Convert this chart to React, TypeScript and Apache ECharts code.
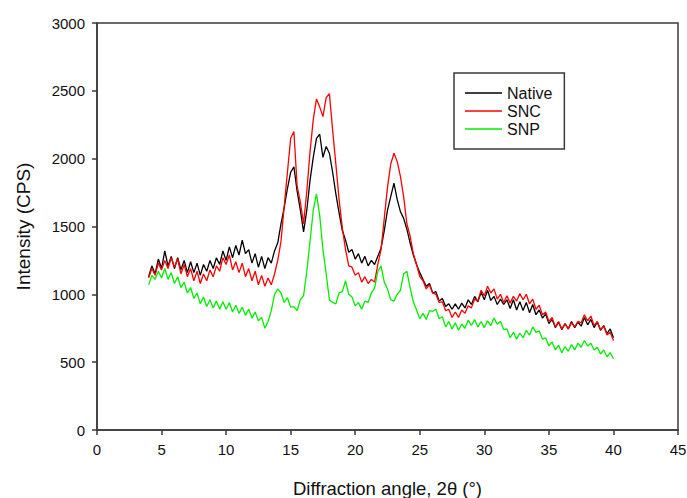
import React, { useEffect, useRef } from "react";
import * as echarts from "echarts";

const angles = [
  4, 4.25, 4.5, 4.75, 5, 5.25, 5.5, 5.75, 6, 6.25, 6.5, 6.75, 7, 7.25, 7.5, 7.75,
  8, 8.25, 8.5, 8.75, 9, 9.25, 9.5, 9.75, 10, 10.25, 10.5, 10.75, 11, 11.25, 11.5, 11.75,
  12, 12.25, 12.5, 12.75, 13, 13.25, 13.5, 13.75, 14, 14.25, 14.5, 14.75, 15, 15.25, 15.5, 15.75,
  16, 16.25, 16.5, 16.75, 17, 17.25, 17.5, 17.75, 18, 18.25, 18.5, 18.75, 19, 19.25, 19.5, 19.75,
  20, 20.25, 20.5, 20.75, 21, 21.25, 21.5, 21.75, 22, 22.25, 22.5, 22.75, 23, 23.25, 23.5, 23.75,
  24, 24.25, 24.5, 24.75, 25, 25.25, 25.5, 25.75, 26, 26.25, 26.5, 26.75, 27, 27.25, 27.5, 27.75,
  28, 28.25, 28.5, 28.75, 29, 29.25, 29.5, 29.75, 30, 30.25, 30.5, 30.75, 31, 31.25, 31.5, 31.75,
  32, 32.25, 32.5, 32.75, 33, 33.25, 33.5, 33.75, 34, 34.25, 34.5, 34.75, 35, 35.25, 35.5, 35.75,
  36, 36.25, 36.5, 36.75, 37, 37.25, 37.5, 37.75, 38, 38.25, 38.5, 38.75, 39, 39.25, 39.5, 39.75,
  40,
];

const nativeValues = [
  1130, 1210, 1150, 1260, 1190, 1320, 1210, 1280, 1190, 1270, 1180, 1250, 1160, 1240, 1160, 1230,
  1140, 1220, 1170, 1250, 1190, 1270, 1220, 1320, 1250, 1350, 1270, 1360, 1290, 1400, 1300, 1330,
  1230, 1300, 1200, 1280, 1190, 1270, 1230, 1320, 1380, 1520, 1640, 1780, 1900, 1940, 1760, 1620,
  1460, 1620, 1840, 2010, 2150, 2180, 2010, 2090, 2040, 1900, 1740, 1600, 1470, 1400, 1310, 1330,
  1260, 1300, 1230, 1280, 1210, 1250, 1220, 1280, 1340, 1470, 1620, 1720, 1820, 1700, 1610, 1560,
  1480, 1380, 1290, 1220, 1160, 1110, 1060, 1080, 1010, 1020, 950, 970, 910, 930, 890, 930,
  890, 935, 900, 960, 925, 985, 945, 1015, 960, 1030, 955, 985, 925, 965, 925, 960,
  895, 960, 885, 945, 880, 940, 865, 925, 850, 885, 825, 855, 785, 815, 755, 795,
  740, 785, 745, 800, 755, 795, 765, 830, 775, 815, 755, 795, 735, 770, 710, 745,
  680,
];

const sncValues = [
  1120, 1190, 1140, 1230, 1180, 1250, 1190, 1270, 1200, 1260, 1150, 1220, 1130, 1190, 1100, 1170,
  1080, 1150, 1100, 1180, 1130, 1210, 1170, 1270, 1220, 1290, 1180, 1240, 1160, 1230, 1130, 1190,
  1100, 1170, 1070, 1140, 1060, 1120, 1070, 1150, 1250, 1390, 1650, 1900, 2150, 2200, 1800, 1680,
  1520, 1760, 2050, 2290, 2440, 2380, 2310, 2450, 2480, 2210, 1960, 1700, 1490, 1330, 1210, 1200,
  1140, 1160, 1090, 1130, 1080, 1110, 1090, 1220, 1330, 1560, 1790, 1960, 2040, 1980, 1870, 1720,
  1520, 1430, 1300, 1220, 1130, 1100, 1040, 1070, 1010, 1000, 940, 945, 880, 890, 830, 870,
  830, 885, 860, 915, 900, 965, 950, 1030, 990, 1060, 1010, 1040, 965, 1000, 940, 990,
  935, 985, 950, 1005, 960, 1000, 930, 965, 890, 920, 850, 870, 800, 830, 760, 800,
  745, 780, 745, 790, 760, 800, 790, 850, 805, 840, 770, 800, 740, 765, 700, 720,
  660,
];

const snpValues = [
  1070, 1140, 1110, 1170, 1120, 1190, 1110, 1160, 1080, 1130, 1050, 1090, 1010, 1050, 970, 1010,
  930, 980, 910, 960, 900, 950, 890, 945, 890, 940, 870, 920, 860, 905, 845, 890,
  825, 870, 805, 830, 750, 800, 880, 1000, 1040, 1010, 940, 975, 905, 910, 880, 960,
  990, 1170, 1390, 1620, 1740, 1580, 1330, 1150, 960, 940, 930, 1010, 1020, 1100, 1000, 980,
  915, 940, 890, 950, 940, 1010, 1045, 1170, 1210, 1090, 1040, 960, 950, 1000, 1030, 1150,
  1170, 1050, 945, 885, 820, 860, 815, 880, 875, 890, 820, 835, 760, 800, 745, 790,
  735, 780, 750, 810, 770, 815, 760, 800, 755, 805, 770, 825, 780, 800, 740, 745,
  680, 720, 670, 715, 680, 735, 700, 760, 720, 730, 670, 680, 620, 650, 590, 625,
  570, 615, 580, 630, 590, 640, 610, 660, 620, 640, 590, 610, 560, 590, 540, 570,
  525,
];

const seriesNames = ["Native", "SNC", "SNP"];
const seriesColors = ["#000000", "#ff0000", "#00ee00"];

const FONT = "'Liberation Sans', Arial, sans-serif";

export default function App() {
  const ref = useRef<HTMLDivElement>(null);

  useEffect(() => {
    if (!ref.current) return;
    const chart = echarts.init(ref.current, null, { renderer: "svg" });
    const allValues = [nativeValues, sncValues, snpValues];
    const axisLine = { show: true, lineStyle: { color: "#3a3a3a", width: 1.5 } };
    const axisTick = { show: true, inside: false, length: 5, lineStyle: { color: "#3a3a3a", width: 1.5 } };
    const axisLabel = {
      margin: 12,
      fontFamily: FONT,
      fontSize: 15,
      color: "#111",
      formatter: (v: number) => String(v),
    };
    chart.setOption({
      animation: false,
      backgroundColor: "#ffffff",
      textStyle: { fontFamily: FONT },
      grid: {
        left: 97,
        right: 9,
        top: 23,
        bottom: 68,
        show: true,
        borderColor: "#3a3a3a",
        borderWidth: 1.5,
        backgroundColor: "transparent",
        containLabel: false,
        outerBoundsMode: "none",
      },
      legend: {
        orient: "vertical",
        left: 454,
        top: 73,
        padding: [12, 12, 12, 11],
        borderColor: "#3a3a3a",
        borderWidth: 1.5,
        itemGap: 2,
        itemWidth: 37,
        itemHeight: 1.5,
        itemTextGap: 10,
        icon: "rect",
        data: seriesNames,
        textStyle: { fontFamily: FONT, fontSize: 16, color: "#111" },
      },
      xAxis: {
        type: "value",
        min: 0,
        max: 45,
        interval: 5,
        name: "Diffraction angle, 2θ (°)",
        nameLocation: "middle",
        nameGap: 49,
        nameTextStyle: { fontFamily: FONT, fontSize: 18.5, color: "#111" },
        axisLine,
        axisTick,
        axisLabel,
        splitLine: { show: false },
      },
      yAxis: {
        type: "value",
        min: 0,
        max: 3000,
        interval: 500,
        name: "Intensity (CPS)",
        nameLocation: "middle",
        nameGap: 64,
        nameTextStyle: { fontFamily: FONT, fontSize: 19, color: "#111" },
        axisLine,
        axisTick,
        axisLabel,
        splitLine: { show: false },
      },
      series: seriesNames.map((name, k) => ({
        name,
        type: "line",
        showSymbol: false,
        symbol: "none",
        color: seriesColors[k],
        lineStyle: { color: seriesColors[k], width: 1.3 },
        data: angles.map((a, i) => [a, allValues[k][i]]),
      })),
    });
    return () => chart.dispose();
  }, []);

  return (
    <div
      ref={ref}
      style={{ position: "fixed", left: 0, top: 0, width: 687, height: 498, background: "#fff" }}
    />
  );
}
